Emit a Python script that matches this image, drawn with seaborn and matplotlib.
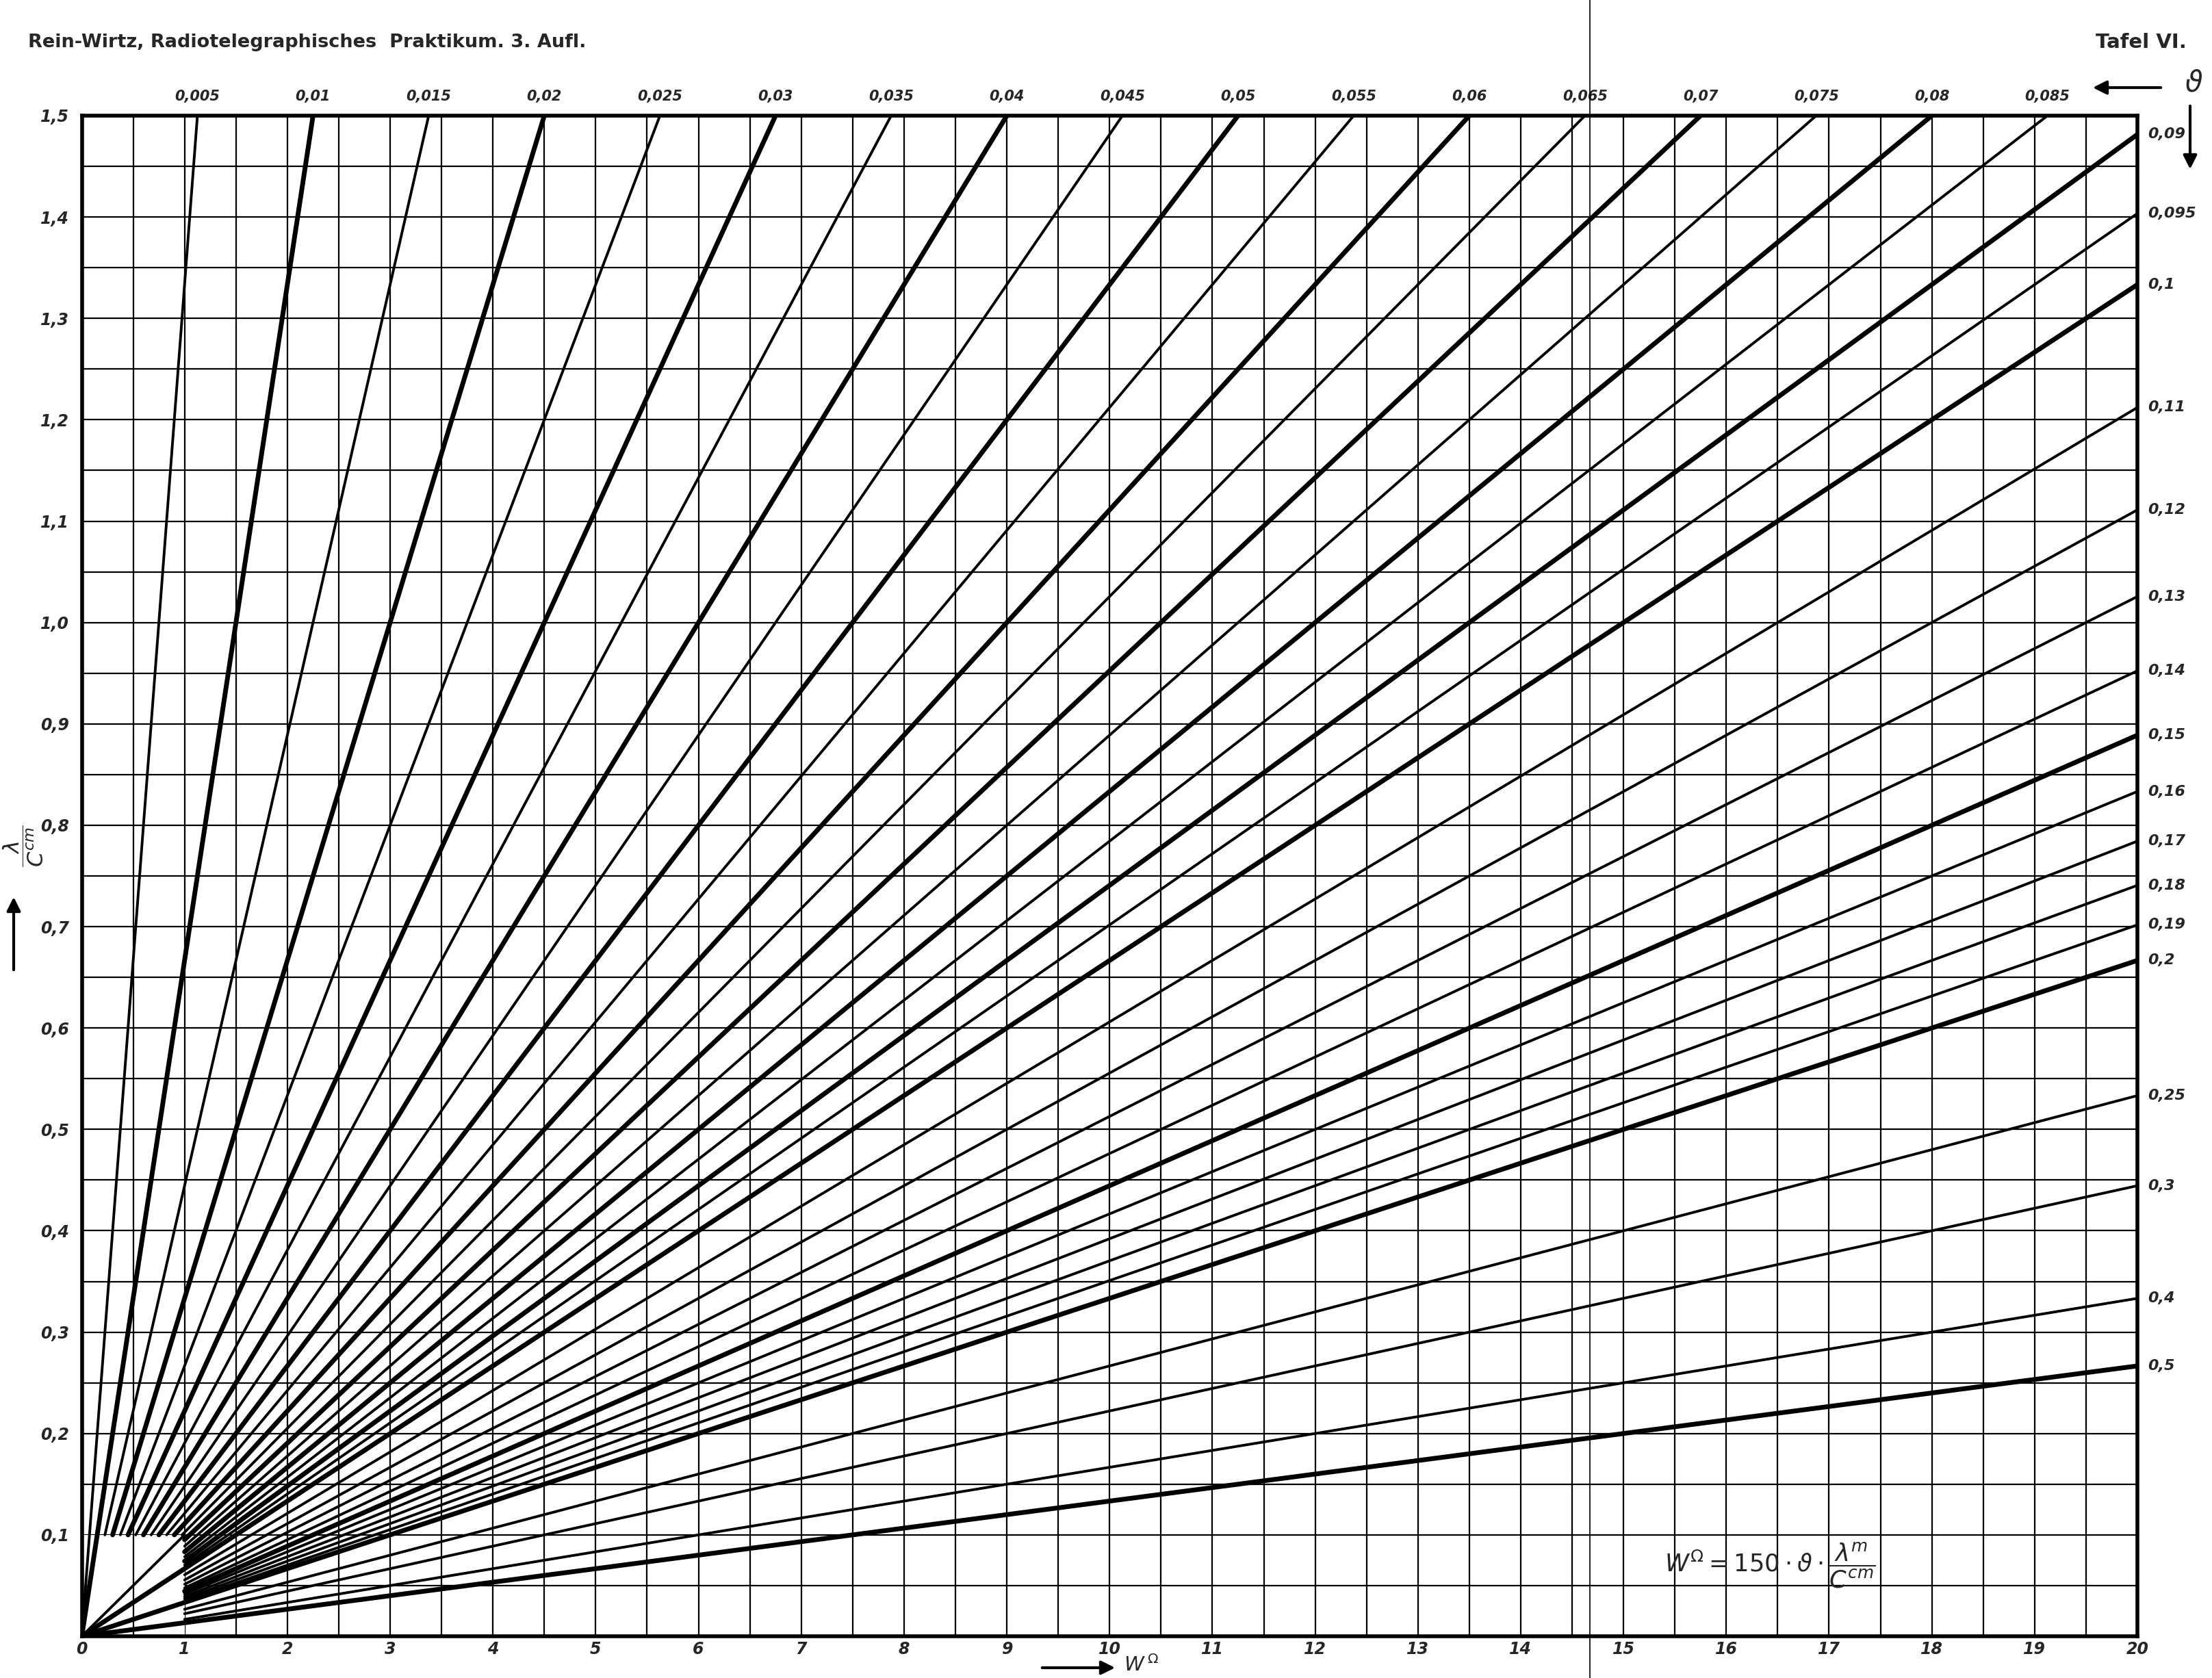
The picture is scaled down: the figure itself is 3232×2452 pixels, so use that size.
import numpy as np
import pandas as pd
import matplotlib
matplotlib.use("Agg")
import matplotlib.pyplot as plt
import seaborn as sns

# damping values (theta) of the ray lines, as labelled on the chart
theta_top = [0.005, 0.01, 0.015, 0.02, 0.025, 0.03, 0.035, 0.04, 0.045, 0.05,
             0.055, 0.06, 0.065, 0.07, 0.075, 0.08, 0.085]
theta_right = [0.09, 0.095, 0.1, 0.11, 0.12, 0.13, 0.14, 0.15, 0.16, 0.17,
               0.18, 0.19, 0.2, 0.25, 0.3, 0.4, 0.5]
top_labels = ["0,005", "0,01", "0,015", "0,02", "0,025", "0,03", "0,035", "0,04", "0,045",
              "0,05", "0,055", "0,06", "0,065", "0,07", "0,075", "0,08", "0,085"]
right_labels = ["0,09", "0,095", "0,1", "0,11", "0,12", "0,13", "0,14", "0,15", "0,16",
                "0,17", "0,18", "0,19", "0,2", "0,25", "0,3", "0,4", "0,5"]
bold_thetas = [0.01, 0.02, 0.03, 0.04, 0.05, 0.06, 0.07, 0.08, 0.09, 0.1, 0.15, 0.2, 0.5]
origin_thetas = [0.005, 0.01, 0.1, 0.2, 0.5]   # rays drawn right down to 0
x_ticks = list(range(0, 21))
y_ticks = [0.1, 0.2, 0.3, 0.4, 0.5, 0.6, 0.7, 0.8, 0.9, 1.0, 1.1, 1.2, 1.3, 1.4, 1.5]
y_tick_labels = ["0,1", "0,2", "0,3", "0,4", "0,5", "0,6", "0,7", "0,8", "0,9", "1,0",
                 "1,1", "1,2", "1,3", "1,4", "1,5"]
K = 150          # W = 150 * theta * lambda / C
X_MAX, Y_MAX = 20, 1.5
Y_CUT, X_CUT = 0.1, 1.0   # inner corner where the rays are cut off

W_PX, H_PX = 3232, 2452


def fx(px):
    return px / W_PX


def fy(py):
    return 1 - py / H_PX


# build ray segments
rows = []
for th in theta_top + theta_right:
    slope = 1 / (K * th)
    if th in origin_thetas:
        x0 = 0.0
    elif K * th * Y_CUT <= X_CUT:
        x0 = K * th * Y_CUT
    else:
        x0 = X_CUT
    x1 = min(X_MAX, K * th * Y_MAX)
    w = "bold" if th in bold_thetas else "thin"
    rows.append({"theta": th, "W": x0, "r": x0 * slope, "w": w})
    rows.append({"theta": th, "W": x1, "r": x1 * slope, "w": w})
# corner diagonal of the cut-off box
rows.append({"theta": -1, "W": 0.0, "r": 0.0, "w": "thin"})
rows.append({"theta": -1, "W": X_CUT, "r": Y_CUT, "w": "thin"})
df = pd.DataFrame(rows)

sns.set_theme(style="white")
plt.rcParams["font.family"] = ["DejaVu Sans"]

fig = plt.figure(figsize=(W_PX / 100, H_PX / 100), dpi=100)
ax = fig.add_axes([fx(119.5), fy(2391), fx(3123) - fx(119.5), fy(169) - fy(2391)])

ax.set_xlim(0, X_MAX)
ax.set_ylim(0, Y_MAX)
ax.set_xticks(x_ticks)
ax.set_xticks(np.arange(0.5, X_MAX, 1.0), minor=True)
ax.set_yticks(y_ticks)
ax.set_yticks(np.arange(0.05, Y_MAX, 0.1), minor=True)
ax.set_xticklabels([str(v) for v in x_ticks], fontsize=17, fontstyle="italic", fontweight="bold")
ax.set_yticklabels(y_tick_labels, fontsize=17, fontstyle="italic", fontweight="bold")
ax.tick_params(which="both", length=0)
ax.tick_params(axis="x", pad=5)
ax.tick_params(axis="y", pad=13)
ax.grid(True, which="both", color="black", linewidth=1.6)
ax.set_axisbelow(True)
for s in ax.spines.values():
    s.set_color("black")
    s.set_linewidth(4)

# inner cut-off box carries no horizontal rulings
ax.add_patch(matplotlib.patches.Rectangle((0, 0), X_CUT, Y_CUT, facecolor="white",
                                          edgecolor="none", zorder=1))
ax.plot([0.5, 0.5], [0, Y_CUT], color="black", linewidth=1.6, zorder=1.1)

sns.lineplot(data=df[df.w == "thin"], x="W", y="r", units="theta", estimator=None,
             color="black", linewidth=2.8, ax=ax, legend=False)
sns.lineplot(data=df[df.w == "bold"], x="W", y="r", units="theta", estimator=None,
             color="black", linewidth=5.0, ax=ax, legend=False)
ax.set_xlabel("")
ax.set_ylabel("")

# ray labels
for th, lab in zip(theta_top, top_labels):
    ax.text(K * th * Y_MAX, Y_MAX + 0.012, lab, ha="center", va="bottom",
            fontsize=15, fontstyle="italic", fontweight="bold")
for th, lab in zip(theta_right, right_labels):
    ax.text(X_MAX + 0.1, X_MAX / (K * th), lab, ha="left", va="center",
            fontsize=16, fontstyle="italic", fontweight="bold")

# formula
ax.text(15.4, 0.07, r"$W^{\Omega}=150\cdot\vartheta\cdot\dfrac{\lambda^{m}}{C^{cm}}$",
        ha="left", va="center", fontsize=25.5)

# header texts
fig.text(fx(41), fy(62), "Rein-Wirtz, Radiotelegraphisches  Praktikum. 3. Aufl.",
         ha="left", va="center", fontsize=19.5, fontweight="bold")
fig.text(fx(3195), fy(62), "Tafel VI.", ha="right", va="center", fontsize=21,
         fontweight="bold")

# theta direction arrows
fig.patches.append(matplotlib.patches.FancyArrowPatch(
    (fx(3160), fy(128)), (fx(3055), fy(128)), transform=fig.transFigure,
    arrowstyle="-|>", mutation_scale=30, color="black", linewidth=3))
fig.text(fx(3205), fy(122), r"$\vartheta$", ha="center", va="center", fontsize=30)
fig.patches.append(matplotlib.patches.FancyArrowPatch(
    (fx(3200), fy(152)), (fx(3200), fy(250)), transform=fig.transFigure,
    arrowstyle="-|>", mutation_scale=30, color="black", linewidth=3))

# axis captions
fig.text(fx(34), fy(1236), r"$\dfrac{\lambda}{C^{cm}}$", rotation=90,
         ha="center", va="center", fontsize=23)
fig.patches.append(matplotlib.patches.FancyArrowPatch(
    (fx(20), fy(1420)), (fx(20), fy(1308)), transform=fig.transFigure,
    arrowstyle="-|>", mutation_scale=30, color="black", linewidth=3))
fig.patches.append(matplotlib.patches.FancyArrowPatch(
    (fx(1520), fy(2437)), (fx(1632), fy(2437)), transform=fig.transFigure,
    arrowstyle="-|>", mutation_scale=30, color="black", linewidth=3))
fig.text(fx(1642), fy(2433), r"$W^{\,\Omega}$", ha="left", va="center", fontsize=21)

# fold line of the scanned page
fig.add_artist(matplotlib.lines.Line2D([fx(2323), fx(2323)], [0, 1],
                                       transform=fig.transFigure, color="black", linewidth=1.2))

fig.savefig("out.png", dpi=100, facecolor="white")
